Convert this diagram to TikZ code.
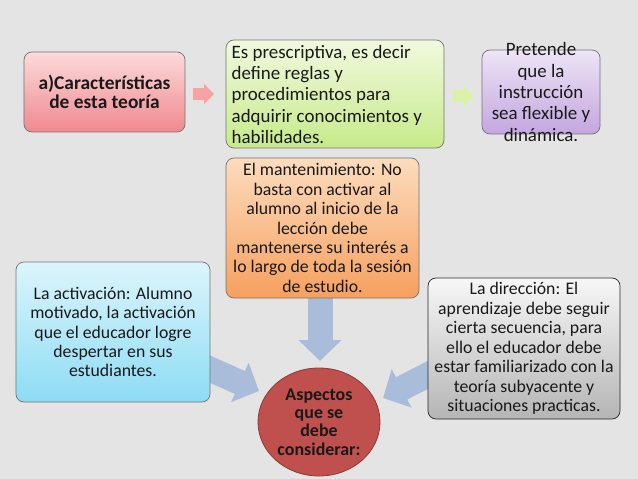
\documentclass[tikz,border=0pt]{standalone}
\usepackage{fontspec}
\setmainfont{Carlito}
\usetikzlibrary{arrows.meta,shapes.geometric}
\pgfdeclarelayer{bgl}
\pgfdeclarelayer{arr}
\pgfsetlayers{bgl,arr,main}
\definecolor{bgcol}{HTML}{E4E4E4}
\definecolor{bigarr}{HTML}{A9BDDB}
\definecolor{pinkT}{HTML}{FCDADB}
\definecolor{pinkB}{HTML}{F0898E}
\definecolor{greenT}{HTML}{F1F9DF}
\definecolor{greenB}{HTML}{C7EA8A}
\definecolor{purpT}{HTML}{EEE5F6}
\definecolor{purpB}{HTML}{C4A6DF}
\definecolor{oranT}{HTML}{FCDCBE}
\definecolor{oranB}{HTML}{F6A05E}
\definecolor{blueT}{HTML}{DCF5FC}
\definecolor{blueB}{HTML}{8DDCF4}
\definecolor{grayT}{HTML}{F7F7F7}
\definecolor{grayB}{HTML}{B5B5B5}
\definecolor{redfill}{HTML}{C0504D}
\definecolor{reddraw}{HTML}{8C3836}
\definecolor{smallpink}{HTML}{F7A3A6}
\definecolor{smallgreen}{HTML}{D9F2A8}
\tikzset{
  box/.style={rounded corners=8bp, draw=black!55, line width=0.7bp, align=center, inner sep=1bp, text=black!90},
  txtA/.style={font=\fontsize{17.8}{19.5}\selectfont},
  txtB/.style={font=\fontsize{19}{21.5}\selectfont},
  bigarrow/.style={draw=bigarr, line width=25bp, -{Triangle[length=21bp,width=42bp]}},
  smallarrow/.style={line width=12bp, -{Triangle[length=10bp,width=20bp]}}
}
\begin{document}
\begin{tikzpicture}[x=1bp,y=-1bp]
\begin{pgfonlayer}{bgl}
\fill[bgcol] (0,0) rectangle (638,479);
\end{pgfonlayer}
\useasboundingbox (0,0) rectangle (638,479);

\node[box, top color=pinkT, bottom color=pinkB, minimum width=161bp, minimum height=80bp,
      font=\fontsize{19.5}{19.5}\selectfont\bfseries] (pink) at (104.5,92)
  {a)Características\\de esta teoría};

\node[box, top color=greenT, bottom color=greenB, minimum width=218bp, minimum height=108bp] (green) at (335,94) {};
\node[align=left, txtB, inner sep=0pt, anchor=west, text=black!90] (greentext) at (231.5,94.5)
  {Es prescriptiva, es decir\\define reglas y\\procedimientos para\\adquirir conocimientos y\\habilidades.};

\node[box, top color=purpT, bottom color=purpB, minimum width=118bp, minimum height=84bp] (purple) at (541,92) {};
\node[align=center, txtB, inner sep=0pt, text=black!90] (purpletext) at (541,92)
  {Pretende\\que la\\instrucción\\sea flexible y\\dinámica.};

\node[box, top color=oranT, bottom color=oranB, minimum width=193bp, minimum height=140bp, txtA] (orange) at (322.5,228)
  {El mantenimiento: No\\basta con activar al\\alumno al inicio de la\\lección debe\\mantenerse su interés a\\lo largo de toda la sesión\\de estudio.};

\node[box, top color=blueT, bottom color=blueB, minimum width=194bp, minimum height=140bp, txtA] (blue) at (113,332)
  {La activación: Alumno\\motivado, la activación\\que el educador logre\\despertar en sus\\estudiantes.};

\node[box, top color=grayT, bottom color=grayB, draw=black!85, minimum width=192bp, minimum height=141bp, txtA] (gray) at (524,348.5)
  {La dirección: El\\aprendizaje debe seguir\\cierta secuencia, para\\ello el educador debe\\estar familiarizado con la\\teoría subyacente y\\situaciones practicas.};

\node[ellipse, fill=redfill, draw=reddraw, line width=0.8bp, minimum width=122bp, minimum height=108bp, inner sep=0pt,
      align=center, font=\fontsize{18}{18.5}\selectfont\bfseries, text=black!90] (center) at (319,422)
  {Aspectos\\que se\\debe\\considerar:};

\coordinate (pa) at (193,94);
\coordinate (pb) at (214,94);
\coordinate (ga) at (453,96);
\coordinate (gb) at (474,96);
\coordinate (ob) at (320,361);
\coordinate (la) at (185,358);
\coordinate (lb) at (259,391);
\coordinate (ra) at (445,366);
\coordinate (rb) at (383,398);

\draw[smallarrow, draw=smallpink] (pa) -- (pb);
\draw[smallarrow, draw=smallgreen] (ga) -- (gb);

\begin{pgfonlayer}{arr}
\draw[bigarrow] (orange.south -| ob) -- (ob);
\draw[bigarrow] (la) -- (lb);
\draw[bigarrow] (ra) -- (rb);
\end{pgfonlayer}
\end{tikzpicture}
\end{document}
